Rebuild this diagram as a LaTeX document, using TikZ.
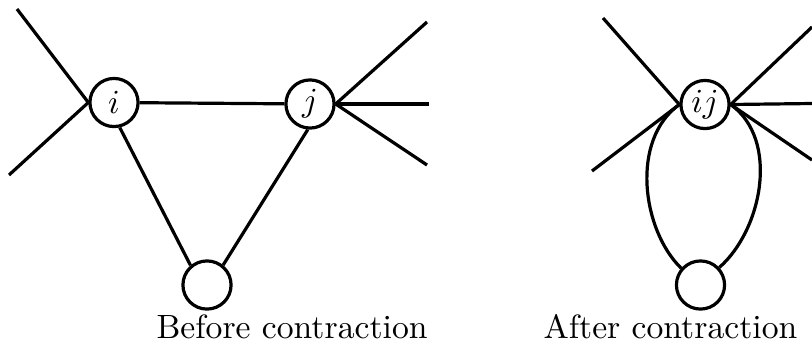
\documentclass[tikz,border=0pt]{standalone}
\begin{document}
\begin{tikzpicture}[x=0.297pt,y=-0.297pt,line width=0.95pt,
  vtx/.style={circle,draw,line width=0.95pt,minimum size=14.3pt,inner sep=0pt},
  edge/.style={line width=0.95pt},
  caption/.style={anchor=base west,inner sep=0pt}]
\useasboundingbox (0,0) rectangle (812,341);
% left panel
\node[vtx] (i) at (114,102.5) {$i$};
\node[vtx] (j) at (310,104) {$j$};
\node[vtx] (b1) at (207,285) {};
\coordinate (il1) at (17,9);
\coordinate (il2) at (9,175);
\coordinate (jr1) at (427,22);
\coordinate (jr2) at (429,104);
\coordinate (jr3) at (427,165);
\draw[edge] (il1) -- (i.west);
\draw[edge] (il2) -- (i.west);
\draw[edge] (jr1) -- (j.east);
\draw[edge] (jr2) -- (j.east);
\draw[edge] (jr3) -- (j.east);
\draw[edge] (i) -- (j);
\draw[edge] (i.-77) -- (b1.130);
\draw[edge] (j.-95) -- (b1.51);
\node[caption] (cap1) at (155,338) {Before contraction};
% right panel
\node[vtx] (ij) at (705,104.5) {$ij$};
\node[vtx] (b2) at (700.5,285) {};
\coordinate (kl1) at (603,18);
\coordinate (kl2) at (592,171);
\coordinate (kr1) at (812,27);
\coordinate (kr2) at (812,103.5);
\coordinate (kr3) at (812,160);
\draw[edge] (kl1) -- (ij.west);
\draw[edge] (kl2) -- (ij.west);
\draw[edge] (kr1) -- (ij.east);
\draw[edge] (kr2) -- (ij.east);
\draw[edge] (kr3) -- (ij.east);
\draw[edge] (ij.west) .. controls (630,140) and (642,230) .. (b2.139);
\draw[edge] (ij.east) .. controls (780,140) and (762,230) .. (b2.43);
\node[caption] (cap2) at (542,338) {After contraction};
\end{tikzpicture}
\end{document}
